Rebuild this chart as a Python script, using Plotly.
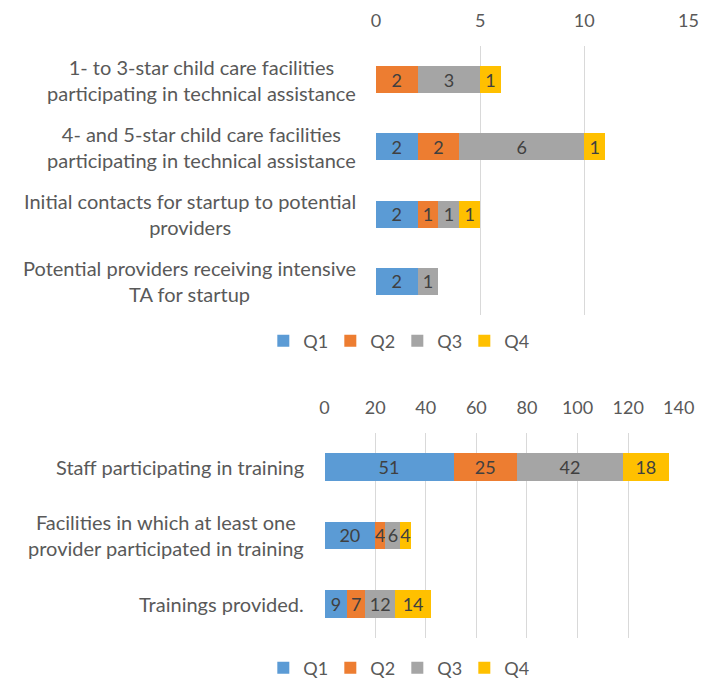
import plotly.graph_objects as go

# Technical assistance counts by quarter
ta_categories = [
    '1- to 3-star child care facilities<br>participating in technical assistance',
    '4- and 5-star child care facilities<br>participating in technical assistance',
    'Initial contacts for startup to potential<br>providers',
    'Potential providers receiving intensive<br>TA for startup',
]
ta_q1 = [None, 2, 2, 2]
ta_q2 = [2, 2, 1, None]
ta_q3 = [3, 6, 1, 1]
ta_q4 = [1, 1, 1, None]

# Training counts by quarter
tr_categories = [
    'Staff participating in training',
    'Facilities in which at least one<br>provider participated in training',
    'Trainings provided.',
]
tr_q1 = [51, 20, 9]
tr_q2 = [25, 4, 7]
tr_q3 = [42, 6, 12]
tr_q4 = [18, 4, 14]

quarters = ['Q1', 'Q2', 'Q3', 'Q4']
colors = ['#5B9BD5', '#ED7D31', '#A5A5A5', '#FFC000']

FONT = 'Lato, Roboto, sans-serif'
GREY = '#595959'
FS = 20

W, H = 712, 679

fig = go.Figure()

for name, vals, col in zip(quarters, [ta_q1, ta_q2, ta_q3, ta_q4], colors):
    fig.add_trace(go.Bar(
        y=ta_categories, x=vals, name=name, orientation='h',
        marker=dict(color=col, line=dict(width=0)),
        text=vals, texttemplate='%{x}', textposition='inside', textangle=0,
        insidetextanchor='middle', constraintext='none',
        textfont=dict(color='#404040', size=18, family=FONT),
        xaxis='x', yaxis='y', legend='legend',
    ))

for name, vals, col in zip(quarters, [tr_q1, tr_q2, tr_q3, tr_q4], colors):
    fig.add_trace(go.Bar(
        y=tr_categories, x=vals, name=name, orientation='h',
        marker=dict(color=col, line=dict(width=0)),
        text=vals, texttemplate='%{x}', textposition='inside', textangle=0,
        insidetextanchor='middle', constraintext='none',
        textfont=dict(color='#404040', size=18, family=FONT),
        xaxis='x2', yaxis='y2', legend='legend2',
    ))

# category labels, centred lines, right edge next to the plot
annotations = []
for cat in ta_categories:
    annotations.append(dict(
        text=cat, xref='paper', yref='y', x=355 / W, y=cat,
        xanchor='right', yanchor='middle', align='center', showarrow=False,
        font=dict(size=FS, color=GREY, family=FONT),
    ))
for cat in tr_categories:
    annotations.append(dict(
        text=cat, xref='paper', yref='y2', x=302 / W, y=cat,
        xanchor='right', yanchor='middle', align='center', showarrow=False,
        font=dict(size=FS, color=GREY, family=FONT),
    ))

axis_style = dict(
    side='top', showgrid=True, gridcolor='#D9D9D9', gridwidth=1,
    zeroline=False, showline=False, ticks='', ticklabelstandoff=14,
    tickfont=dict(size=18, color=GREY, family=FONT),
)

legend_style = dict(
    orientation='h', xanchor='center', yanchor='middle',
    font=dict(size=18, color=GREY, family=FONT),
    itemwidth=30, entrywidth=22, traceorder='normal',
)

fig.update_layout(
    width=W, height=H,
    template='plotly_white',
    paper_bgcolor='white', plot_bgcolor='white',
    margin={'t': 0, 'b': 0, 'l': 0, 'r': 0},
    barmode='stack', bargap=0.6,
    font=dict(family=FONT, color=GREY),
    xaxis=dict(domain=[374 / W, 696 / W], anchor='y', range=[0, 15], dtick=5, **axis_style),
    yaxis=dict(domain=[1 - 308 / H, 1 - 38 / H], anchor='x', autorange='reversed',
               showticklabels=False, showgrid=False),
    xaxis2=dict(domain=[321 / W, 686 / W], anchor='y2', range=[0, 140], dtick=20, **axis_style),
    yaxis2=dict(domain=[1 - 632 / H, 1 - 426 / H], anchor='x2', autorange='reversed',
                showticklabels=False, showgrid=False),
    legend=dict(x=396 / W, y=1 - 334 / H, **legend_style),
    legend2=dict(x=396 / W, y=1 - 662 / H, **legend_style),
    annotations=annotations,
)

fig.write_html('out.html')
